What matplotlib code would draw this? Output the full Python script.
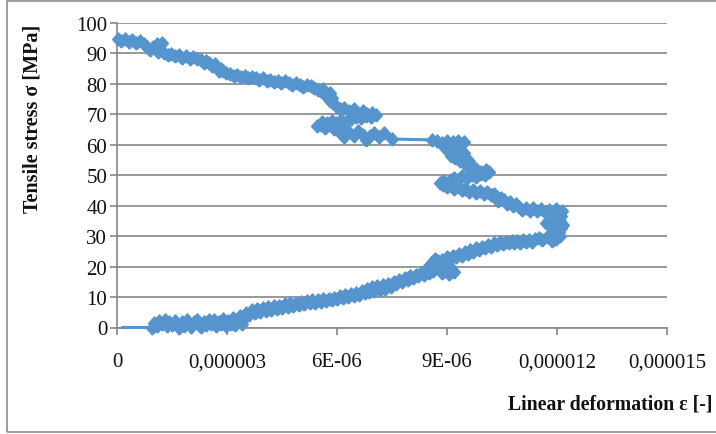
import numpy as np
import matplotlib.pyplot as plt
from matplotlib.patches import Rectangle

# strain in units of 1e-6, stress in MPa, in recording order
strain_micro = [
    0.15, 0.95,
    1.00, 1.08, 1.15, 1.22, 1.30, 1.36, 1.43, 1.50, 1.57, 1.63, 1.70, 1.76, 1.83, 1.90, 1.96, 2.03,
    2.10, 2.17, 2.24, 2.30, 2.37, 2.44, 2.50, 2.57, 2.64, 2.70, 2.77, 2.84, 2.90, 2.97, 3.04, 3.10,
    3.17, 3.23, 3.30, 3.36, 3.42, 3.48, 3.53,
    3.60, 3.68, 3.75, 3.83, 3.90, 3.98, 4.05, 4.13, 4.20, 4.28, 4.35, 4.43, 4.50, 4.58, 4.65, 4.73,
    4.80, 4.88, 4.95, 5.03, 5.10, 5.18, 5.25, 5.33, 5.40, 5.48, 5.55, 5.63, 5.70, 5.78, 5.85, 5.93,
    6.00, 6.08, 6.15, 6.23, 6.30, 6.38, 6.45, 6.52, 6.60, 6.68, 6.75, 6.82, 6.88, 6.95, 7.02, 7.10,
    7.18, 7.25, 7.32, 7.40, 7.47, 7.55, 7.62, 7.70, 7.78, 7.85, 7.93, 8.00, 8.08, 8.15, 8.22, 8.30,
    8.36,
    8.42, 8.50, 8.55, 8.62, 8.70, 8.78, 8.85, 8.95, 9.05, 9.18, 9.10, 8.92, 8.75, 8.60, 8.68, 8.85,
    9.00,
    9.08, 9.16, 9.24, 9.32, 9.40, 9.48, 9.56, 9.64, 9.72, 9.80, 9.88, 9.96, 10.04, 10.12, 10.20,
    10.28, 10.36, 10.44, 10.52, 10.60, 10.68, 10.76, 10.84, 10.92, 11.00, 11.08, 11.16, 11.24,
    11.32, 11.40,
    11.50, 11.60, 11.72, 11.85, 11.98, 12.08, 11.95, 11.82, 11.92, 12.06, 12.12, 12.16, 12.08,
    11.95, 11.80, 11.70, 11.85, 12.00, 12.12, 12.05, 12.14, 11.98, 11.88, 11.78, 11.66, 11.55,
    11.45, 11.35, 11.25, 11.15, 11.05, 10.95, 10.88, 10.80, 10.72, 10.64, 10.56, 10.48, 10.40,
    10.35,
    10.28, 10.20, 10.10, 10.00, 9.90, 9.80, 9.70, 9.60, 9.50,
    9.40, 9.30, 9.20, 9.10, 9.00, 8.90, 8.82, 8.90, 9.00, 9.10,
    9.20, 9.30, 9.42, 9.55, 9.68, 9.80, 9.92, 10.04, 10.15, 10.05, 9.92, 9.80, 9.68,
    9.55, 9.45, 9.60, 9.48, 9.35, 9.22, 9.10, 9.30, 9.45, 9.30, 9.15, 9.00, 8.92,
    9.05, 9.20, 9.35, 9.45, 9.30, 9.15, 9.00, 8.85, 8.72, 8.60,
    7.50, 7.28, 7.15, 7.02, 6.90, 6.80, 6.70, 6.58, 6.45, 6.32, 6.20, 6.10, 6.18, 6.05, 5.92,
    5.80, 5.68, 5.55, 5.45, 5.58, 5.72, 5.85, 5.98, 6.10, 6.25, 6.38, 6.52, 6.65, 6.80, 6.92,
    7.05, 6.95, 6.82, 6.70, 6.58, 6.45, 6.32, 6.20, 6.08, 5.96, 5.90,
    5.80, 5.85, 5.72, 5.80, 5.65, 5.55, 5.62, 5.48, 5.38, 5.28,
    5.18, 5.08, 4.98, 4.88, 4.78, 4.68, 4.58, 4.48, 4.38, 4.28, 4.18, 4.08, 3.98, 3.88, 3.78,
    3.68, 3.58, 3.48, 3.38, 3.28, 3.18, 3.08, 2.98,
    2.90, 2.84, 2.78, 2.72, 2.66, 2.58, 2.52, 2.44, 2.36, 2.28,
    2.18, 2.08, 1.98, 1.88, 1.78, 1.68, 1.58, 1.48, 1.38, 1.28,
    1.20, 1.12, 1.05, 1.15, 1.22, 1.10, 0.98, 0.90, 0.82, 0.74,
    0.62, 0.52, 0.42, 0.32, 0.22, 0.12, 0.02,
]
stress = [
    0.0, 0.0,
    1.6, 0.6, 2.1, 1.0, 2.3, 0.4, 1.8, 0.8, 2.2, 1.2, 0.0, 1.9, 0.6, 2.3, 1.0, 0.2,
    1.7, 2.5, 0.9, 0.3, 1.9, 0.7, 2.4, 1.1, 2.6, 0.5, 1.8, 1.0, 2.7, 0.6, 2.2, 1.2,
    3.0, 0.8, 2.6, 3.8, 1.0, 3.4, 4.8,
    4.2, 5.6, 4.6, 6.0, 5.0, 6.3, 5.3, 6.6, 5.6, 7.0, 6.0, 7.2, 6.4, 7.6, 6.8, 7.9,
    7.1, 8.2, 7.4, 8.4, 7.7, 8.7, 7.9, 8.9, 8.2, 9.1, 8.4, 9.3, 8.6, 9.5, 8.9, 9.8,
    9.2, 10.2, 9.6, 10.6, 10.0, 11.0, 10.4, 11.4, 10.8, 12.0, 11.3, 12.6, 11.6, 13.2, 12.0, 13.6,
    12.4, 14.0, 12.8, 14.4, 13.4, 15.0, 14.4, 15.6, 15.0, 16.2, 15.6, 16.8, 16.2, 17.4, 16.8, 18.0,
    17.4,
    19.2, 18.0, 20.4, 18.6, 21.2, 19.2, 17.8, 18.6, 17.6, 18.2, 19.6, 20.6, 22.0, 21.4, 22.6, 22.2,
    23.0,
    22.4, 23.6, 23.0, 24.2, 23.6, 24.8, 24.2, 25.4, 24.8, 26.0, 25.4, 26.6, 26.0, 27.2, 26.6,
    27.6, 27.0, 28.0, 27.4, 28.2, 27.6, 28.4, 27.8, 28.4, 27.8, 28.6, 28.0, 28.8,
    28.2, 29.0,
    29.4, 28.6, 29.6, 28.4, 29.2, 30.0, 30.8, 30.4, 31.8, 31.2, 32.6, 33.8, 35.0,
    34.2, 33.6, 34.4, 35.4, 35.8, 36.6, 37.6, 38.4, 38.8, 37.6, 38.6, 37.8, 38.8,
    38.2, 39.2, 38.4, 39.4, 38.6, 39.6, 40.6, 39.8, 41.2, 40.4, 41.8, 42.4, 41.6,
    43.0,
    44.0, 43.4, 44.4, 43.8, 44.8, 44.2, 45.2, 44.6, 45.6,
    45.2, 46.2, 45.6, 46.6, 46.0, 46.8, 47.4, 48.2, 47.6, 48.6,
    49.2, 48.6, 49.6, 49.0, 50.0, 49.4, 50.4, 50.0, 51.0, 51.6, 51.2, 52.0, 52.6,
    53.2, 54.0, 54.6, 55.4, 54.8, 55.6, 56.4, 56.8, 57.4, 58.0, 57.6, 58.4, 59.2,
    59.8, 60.4, 60.0, 60.8, 61.2, 60.8, 61.4, 60.6, 61.2, 61.6,
    61.9, 63.8, 62.6, 64.0, 62.8, 61.6, 63.2, 64.4, 63.0, 64.2, 62.6, 63.6, 65.0, 66.0, 65.2,
    66.4, 65.6, 66.6, 66.2, 67.4, 67.0, 67.8, 67.2, 68.0, 67.4, 68.6, 69.2, 68.8, 69.6, 69.0,
    69.8, 70.6, 70.2, 71.2, 70.6, 71.6, 71.0, 72.2, 71.8, 72.8, 73.6,
    74.4, 75.4, 76.0, 77.0, 76.6, 77.6, 78.4, 78.0, 78.8, 79.2,
    79.6, 79.0, 79.8, 80.2, 79.6, 80.4, 80.8, 80.2, 81.0, 80.6, 81.4, 81.0, 81.8, 81.4, 82.0,
    82.4, 81.8, 82.6, 82.2, 83.0, 82.6, 83.2, 83.6,
    84.2, 85.0, 84.4, 85.6, 86.4, 85.8, 86.8, 87.4, 86.8, 87.8,
    88.2, 88.8, 88.2, 89.0, 88.6, 89.4, 89.0, 89.8, 89.4, 90.2,
    91.0, 90.4, 91.6, 92.4, 93.4, 93.0, 92.2, 91.2, 92.0, 93.0,
    94.0, 93.4, 94.4, 93.8, 94.6, 94.2, 94.9,
]

xticks_micro = [0, 3, 6, 9, 12, 15]
xtick_labels = ["0", "0,000003", "6E-06", "9E-06", "0,000012", "0,000015"]
yticks = [0, 10, 20, 30, 40, 50, 60, 70, 80, 90, 100]

W, H = 716, 435
plt.rcParams['font.family'] = ['Liberation Serif', 'DejaVu Serif']

fig = plt.figure(figsize=(W / 100, H / 100), dpi=100)
fig.patches.append(Rectangle((7 / W, 2 / H), 740 / W, 431 / H, transform=fig.transFigure,
                             fill=False, edgecolor='#8c8c8c', linewidth=1.2))

ax = fig.add_axes([117 / W, (H - 328.5) / H, 550 / W, 304.5 / H])

eps = np.array(strain_micro) * 1e-6
diamond = [(0, -1), (0.9, 0), (0, 1), (-0.9, 0), (0, -1)]
ax.plot(eps, stress, color='#5694CE', linewidth=2.2, marker=diamond, markersize=9.5,
        markevery=slice(1, None), clip_on=False, zorder=3)

ax.set_xlim(0, 15e-6)
ax.set_ylim(0, 100)
ax.set_xticks(np.array(xticks_micro) * 1e-6)
ax.set_xticklabels(xtick_labels)
ax.set_yticks(yticks)

ax.grid(axis='y', color='#868686', linewidth=1.2)
ax.set_axisbelow(True)
for side in ['top', 'right']:
    ax.spines[side].set_visible(False)
for side in ['left', 'bottom']:
    ax.spines[side].set_color('#868686')
    ax.spines[side].set_linewidth(1.2)
ax.tick_params(axis='both', colors='#868686', width=1.2, length=5, labelcolor='#111111',
               labelsize=15)
ax.tick_params(axis='x', pad=13)
ax.tick_params(axis='y', pad=2)

fig.text(33 / W, 1 - 119 / H, 'Tensile stress σ [MPa]', rotation=90, ha='center', va='center',
         fontsize=14.5, fontweight='bold', color='#111111')
fig.text(712 / W, 1 - 410 / H, 'Linear deformation ε [-]', ha='right', va='baseline',
         fontsize=14.2, fontweight='bold', color='#111111')

fig.savefig('out.png', dpi=100)
